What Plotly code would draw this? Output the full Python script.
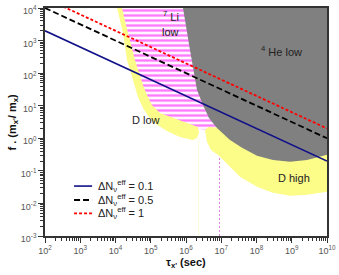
import numpy as np
import plotly.graph_objects as go

# ---- Delta N_eff contour lines (f vs tau) ----
tau_line = [1e2, 1e10]
f_dn01 = [2.0e3, 0.2]
f_dn05 = [1.0e4, 1.0]
f_dn1 = [2.0e4, 2.0]
legend_names = ["ΔN<sub>ν</sub><sup>eff</sup> = 0.1",
                "ΔN<sub>ν</sub><sup>eff</sup> = 0.5",
                "ΔN<sub>ν</sub><sup>eff</sup> = 1"]

# ---- excluded regions, boundaries as log10(tau), log10(f) ----
li7_log_tau = [4.128, 4.270, 4.440, 4.638, 4.837, 4.979, 5.177, 5.546, 5.972, 6.312, 6.681, 7.021, 7.532, 7.532]
li7_log_f = [4.4, 3.233, 2.405, 1.546, 1.178, 0.933, 0.687, 0.442, 0.319, 0.288, 0.258, 0.135, 0.135, 4.4]

dlow_log_tau = [4.014, 4.043, 4.128, 4.213, 4.326, 4.525, 4.638, 4.780, 4.922, 5.149, 5.461, 5.830, 6.199, 6.312, 6.369,
                6.340, 6.028, 5.603, 5.262, 5.035, 4.894, 4.780, 4.553, 4.355, 4.184, 4.184]
dlow_log_f = [4.245, 4.0, 3.632, 3.233, 2.405, 1.638, 1.270, 0.933, 0.687, 0.442, 0.227, 0.043, -0.049, 0.012, 0.166,
              0.350, 0.472, 0.626, 0.779, 1.025, 1.331, 1.638, 2.405, 3.233, 4.0, 4.245]

dhigh_log_tau = [6.539, 6.596, 6.709, 6.936, 7.248, 7.532, 8.014, 8.468, 8.950, 9.433, 10.0, 10.3, 10.3, 8.099, 7.106, 6.823, 6.624]
dhigh_log_f = [0.258, -0.110, -0.356, -0.540, -0.877, -1.184, -1.491, -1.675, -1.767, -1.736, -1.644, -1.644, -0.049, -0.049, 0.319, 0.350, 0.350]

he4_log_tau = [5.915, 5.915, 6.113, 6.312, 6.482, 6.652, 6.879, 7.021, 7.248, 7.589, 8.014, 8.468, 8.950, 9.433, 9.801, 10.0, 10.3, 10.3]
he4_log_f = [4.4, 4.0, 2.712, 1.485, 1.025, 0.626, 0.319, 0.166, -0.049, -0.294, -0.540, -0.663, -0.724, -0.663, -0.571, -0.509, -0.479, 4.4]

# vertical reference lines
vline_log_tau = 6.95
faint_log_tau = 6.36
vline_log_f = [-3.0, 0.0]

# region labels (log10 tau, log10 f)
label_text = ["<sup>7</sup> Li", "low", "<sup>4</sup> He low", "D low", "D high"]
label_log_tau = [5.57, 5.57, 8.72, 4.87, 9.06]
label_log_f = [3.76, 3.26, 2.68, 0.56, -1.22]

x_tick_exp = list(range(2, 11))
y_tick_exp = list(range(-3, 5))

FONT = "Liberation Sans, Arial, sans-serif"
p10 = lambda a: np.power(10.0, np.array(a, dtype=float))

fig = go.Figure()

fig.add_trace(go.Scatter(x=p10([vline_log_tau] * 2), y=p10(vline_log_f), mode="lines",
                         line=dict(color="#e080e0", width=1, dash="2px,2px"), showlegend=False, hoverinfo="skip"))
fig.add_trace(go.Scatter(x=p10([faint_log_tau] * 2), y=p10(vline_log_f), mode="lines",
                         line=dict(color="#fbfbd8", width=1), showlegend=False, hoverinfo="skip"))

fig.add_trace(go.Scatter(x=p10(li7_log_tau), y=p10(li7_log_f), mode="lines", fill="toself",
                         line=dict(width=0, color="rgba(0,0,0,0)"), fillcolor="white",
                         fillpattern=dict(shape="-", fgcolor="#ff00ff", bgcolor="#fff4ff", size=5, solidity=0.45),
                         showlegend=False, hoverinfo="skip"))
fig.add_trace(go.Scatter(x=p10(dlow_log_tau), y=p10(dlow_log_f), mode="lines", fill="toself",
                         line=dict(width=0, color="rgba(0,0,0,0)"), fillcolor="#fcfc88",
                         showlegend=False, hoverinfo="skip"))
fig.add_trace(go.Scatter(x=p10(dhigh_log_tau), y=p10(dhigh_log_f), mode="lines", fill="toself",
                         line=dict(width=0, color="rgba(0,0,0,0)"), fillcolor="#fcfc88",
                         showlegend=False, hoverinfo="skip"))
fig.add_trace(go.Scatter(x=p10(he4_log_tau), y=p10(he4_log_f), mode="lines", fill="toself",
                         line=dict(width=0, color="rgba(0,0,0,0)"), fillcolor="#808080",
                         showlegend=False, hoverinfo="skip"))

line_styles = [dict(color="#101088", width=1.6),
               dict(color="black", width=1.8, dash="6px,3px"),
               dict(color="#ff0000", width=1.8, dash="3px,2px")]
for fv, nm, st in zip([f_dn01, f_dn05, f_dn1], legend_names, line_styles):
    fig.add_trace(go.Scatter(x=tau_line, y=fv, mode="lines", name=nm, line=st, showlegend=False, hoverinfo="skip"))

# manual legend (keys + labels) in paper coordinates
leg_y = [0.219, 0.158, 0.099]
for yy, nm, st in zip(leg_y, legend_names, line_styles):
    fig.add_shape(type="line", xref="paper", yref="paper", x0=0.103, x1=0.167, y0=yy, y1=yy,
                  line=dict(color=st["color"], width=st["width"], dash=st.get("dash", "solid")))
    fig.add_annotation(x=0.182, y=yy, xref="paper", yref="paper", xanchor="left", yanchor="middle",
                       showarrow=False, text=nm, font=dict(family=FONT, size=11, color="#222"))

for t, lx, ly in zip(label_text, label_log_tau, label_log_f):
    fig.add_annotation(x=lx, y=ly, text=t, showarrow=False, xref="x", yref="y",
                       font=dict(family=FONT, size=11, color="#222"))

fig.add_annotation(x=-0.115, y=0.5, xref="paper", yref="paper", xanchor="center", yanchor="middle",
                   textangle=-90, showarrow=False,
                   text="<b>f . (m<sub>x'</sub>/ m<sub>x</sub>)</b>", font=dict(family=FONT, size=11, color="#111"))
fig.add_annotation(x=0.5, y=-0.118, xref="paper", yref="paper", xanchor="center", yanchor="middle",
                   showarrow=False,
                   text="<b>τ<sub>x'</sub> (sec)</b>", font=dict(family=FONT, size=11, color="#111"))

minor_x = [m * 10.0 ** e for e in range(2, 10) for m in range(2, 10)]
minor_y = [m * 10.0 ** e for e in range(-3, 4) for m in range(2, 10)]

axis_common = dict(type="log", showgrid=False, zeroline=False, showline=True, linecolor="#333",
                   linewidth=1.5, mirror=True, ticks="outside", ticklen=5, tickwidth=1, tickcolor="#333",
                   automargin=False, tickfont=dict(family=FONT, size=9, color="#555"))

fig.update_xaxes(range=[2, 10], tickmode="array", tickvals=[10.0 ** e for e in x_tick_exp],
                 ticktext=[f"10<sup>{e}</sup>" for e in x_tick_exp],
                 minor=dict(tickmode="array", tickvals=minor_x, ticks="outside", ticklen=3, tickcolor="#333"),
                 **axis_common)
fig.update_yaxes(range=[-3, 4], tickmode="array", tickvals=[10.0 ** e for e in y_tick_exp],
                 ticktext=[f"10<sup>{e}</sup>" for e in y_tick_exp], ticklabelshift=3,
                 minor=dict(tickmode="array", tickvals=minor_y, ticks="outside", ticklen=3, tickcolor="#333"),
                 **axis_common)

fig.update_layout(width=339, height=275, margin=dict(l=45, r=12, t=8, b=39),
                  paper_bgcolor="white", plot_bgcolor="white", showlegend=False, hovermode=False,
                  font=dict(family=FONT, size=11, color="#222"))

fig.write_html("out.html", config={"displayModeBar": False},
               post_script="document.body.style.margin='0px';")
